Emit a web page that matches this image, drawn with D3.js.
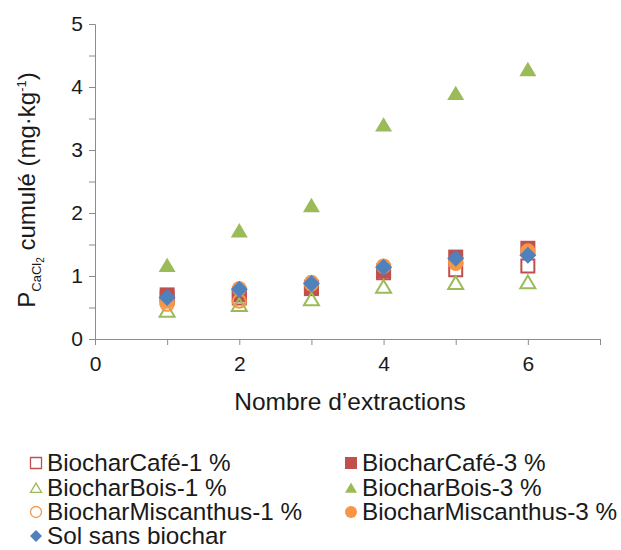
<!DOCTYPE html>
<html>
<head>
<meta charset="utf-8">
<script src="https://cdn.jsdelivr.net/npm/d3@7"></script>
<style>
  body { margin: 0; background: #fff; }
  svg { font-family: "Liberation Sans", Arial, Helvetica, sans-serif; }
</style>
</head>
<body>
<svg id="chart" width="621" height="550"></svg>
<script>
const extractions = [1, 2, 3, 4, 5, 6];

const cafe1 = [0.65, 0.65, 0.82, 1.05, 1.10, 1.16];
const cafe3 = [0.70, 0.70, 0.80, 1.08, 1.30, 1.44];
const bois1 = [0.45, 0.54, 0.63, 0.83, 0.89, 0.90];
const bois3 = [1.17, 1.72, 2.12, 3.40, 3.90, 4.28];
const misc1 = [0.55, 0.60, 0.87, 1.15, 1.20, 1.37];
const misc3 = [0.60, 0.80, 0.90, 1.16, 1.22, 1.40];
const sol   = [0.66, 0.79, 0.88, 1.14, 1.28, 1.33];

const seriesNames = [
  'BiocharCafé-1 %', 'BiocharCafé-3 %',
  'BiocharBois-1 %', 'BiocharBois-3 %',
  'BiocharMiscanthus-1 %', 'BiocharMiscanthus-3 %',
  'Sol sans biochar'
];
const seriesValues = [cafe1, cafe3, bois1, bois3, misc1, misc3, sol];
const seriesShapes = ['square', 'square', 'triangle', 'triangle', 'circle', 'circle', 'diamond'];
const seriesFilled = [false, true, false, true, false, true, true];
const seriesColors = ['#c0504d', '#c0504d', '#9bbb59', '#9bbb59', '#f79646', '#f79646', '#4f81bd'];

const xTicks = [0, 1, 2, 3, 4, 5, 6, 7];
const xLabels = [0, 2, 4, 6];
const yTicks = [0, 0.5, 1, 1.5, 2, 2.5, 3, 3.5, 4, 4.5, 5];
const yLabels = [0, 1, 2, 3, 4, 5];

const svg = d3.select('#chart');
const axisColor = '#8c8c8c';
const textColor = '#1a1a1a';

const x = d3.scaleLinear().domain([0, 7]).range([95, 600]);
const y = d3.scaleLinear().domain([0, 5]).range([339, 24]);

// x axis
const xAxis = svg.append('g')
  .attr('transform', `translate(0,${y(0)})`)
  .call(d3.axisBottom(x).tickValues(xTicks).tickSize(6)
    .tickFormat(d => xLabels.includes(d) ? d : ''));
xAxis.select('.domain').attr('stroke', axisColor);
xAxis.selectAll('.tick line').attr('stroke', axisColor);
xAxis.selectAll('.tick text')
  .attr('font-size', 21).attr('fill', textColor)
  .attr('y', 32).attr('dy', 0)
  .attr('font-family', '"Liberation Sans", Arial, sans-serif');

// y axis
const yAxis = svg.append('g')
  .attr('transform', `translate(${x(0)},0)`)
  .call(d3.axisLeft(y).tickValues(yTicks).tickSize(6)
    .tickFormat(d => yLabels.includes(d) ? d : ''));
yAxis.select('.domain').attr('stroke', axisColor);
yAxis.selectAll('.tick line').attr('stroke', axisColor);
yAxis.selectAll('.tick text')
  .attr('font-size', 21).attr('fill', textColor).attr('x', -12)
  .attr('font-family', '"Liberation Sans", Arial, sans-serif');

// axis titles
svg.append('text')
  .attr('x', 350).attr('y', 410)
  .attr('text-anchor', 'middle')
  .attr('font-size', 24.5).attr('fill', textColor)
  .text('Nombre d’extractions');

const yTitle = svg.append('text')
  .attr('transform', 'translate(35,190) rotate(-90)')
  .attr('text-anchor', 'middle')
  .attr('font-size', 24).attr('fill', textColor);
yTitle.append('tspan').text('P');
yTitle.append('tspan').attr('font-size', 13).attr('dy', 6).text('CaCl');
yTitle.append('tspan').attr('font-size', 10).attr('dy', 3).text('2');
yTitle.append('tspan').attr('dy', -9).text(' cumulé (mg·kg');
yTitle.append('tspan').attr('font-size', 13).attr('dy', -9).text('-1');
yTitle.append('tspan').attr('dy', 9).text(')');

function markerPath(shape, s) {
  const h = s / 2;
  if (shape === 'square') return `M${-h},${-h}H${h}V${h}H${-h}Z`;
  if (shape === 'triangle') return `M0,${-h * 0.9}L${h},${h * 0.8}L${-h},${h * 0.8}Z`;
  if (shape === 'diamond') return `M0,${-h}L${h},0L0,${h}L${-h},0Z`;
  return d3.arc()({innerRadius: 0, outerRadius: h, startAngle: 0, endAngle: 2 * Math.PI});
}

function markerSize(shape) {
  if (shape === 'triangle') return 17;
  if (shape === 'diamond') return 17;
  return 15;
}

// data markers
seriesValues.forEach((vals, i) => {
  const shape = seriesShapes[i];
  const filled = seriesFilled[i];
  const s = markerSize(shape) - (filled ? 0 : 2);
  svg.append('g').selectAll('path')
    .data(vals.map((v, j) => ({x: extractions[j], y: v})))
    .enter().append('path')
      .attr('transform', d => `translate(${x(d.x)},${y(d.y)})`)
      .attr('d', markerPath(shape, s))
      .attr('fill', filled ? seriesColors[i] : 'none')
      .attr('stroke', seriesColors[i])
      .attr('stroke-width', filled ? 0 : 2);
});

// legend
const legendCols = [36, 351];
const legendRows = [471, 496, 520, 544];
const legend = svg.append('g').selectAll('g')
  .data(seriesNames)
  .enter().append('g')
    .attr('transform', (d, i) => `translate(${legendCols[i % 2]},${legendRows[Math.floor(i / 2)]})`);

legend.append('path')
  .attr('d', (d, i) => markerPath(seriesShapes[i], seriesFilled[i] ? 12 : 11))
  .attr('transform', 'translate(0,-8)')
  .attr('fill', (d, i) => seriesFilled[i] ? seriesColors[i] : 'none')
  .attr('stroke', (d, i) => seriesColors[i])
  .attr('stroke-width', (d, i) => seriesFilled[i] ? 0 : 1.3);

legend.append('text')
  .attr('x', 11).attr('y', 0)
  .attr('font-size', 24.3).attr('fill', textColor)
  .text(d => d);
</script>
</body>
</html>
